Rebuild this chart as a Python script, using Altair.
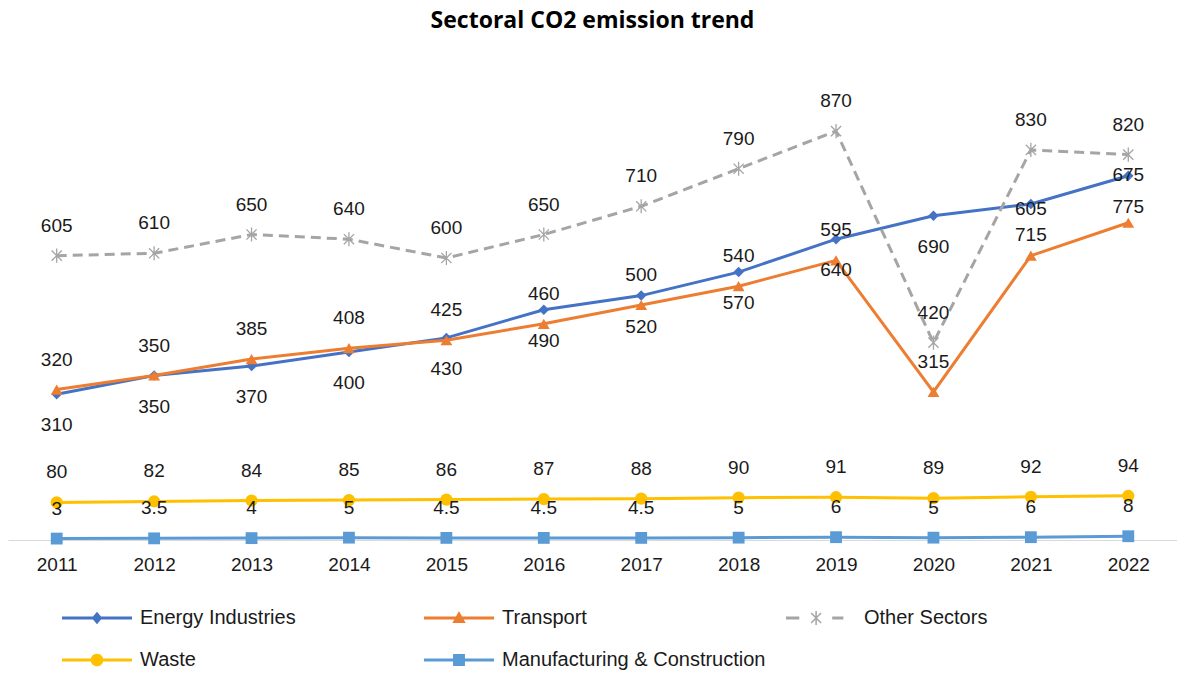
import math
import altair as alt
import pandas as pd

# ---------------- data ----------------
years = [2011, 2012, 2013, 2014, 2015, 2016, 2017, 2018, 2019, 2020, 2021, 2022]
energy = [310, 350, 370, 400, 430, 490, 520, 570, 640, 690, 715, 775]
transport = [320, 350, 385, 408, 425, 460, 500, 540, 595, 315, 605, 675]
other = [605, 610, 650, 640, 600, 650, 710, 790, 870, 420, 830, 820]
waste = [80, 82, 84, 85, 86, 87, 88, 90, 91, 89, 92, 94]
manufacturing = [3, 3.5, 4, 5, 4.5, 4.5, 4.5, 5, 6, 5, 6, 8]

series_names = ["Energy Industries", "Transport", "Other Sectors", "Waste",
                "Manufacturing & Construction"]
series_values = [energy, transport, other, waste, manufacturing]
colors = ["#4472C4", "#ED7D31", "#A5A5A5", "#FFC000", "#5B9BD5"]

rows = []
for name, vals in zip(series_names, series_values):
    for y, v in zip(years, vals):
        rows.append({"year": str(y), "series": name, "value": v, "label": f"{v:g}"})
df = pd.DataFrame(rows)

FONT = "Liberation Sans"
TXT = "#1a1a1a"

# ---------------- style: symbol paths, label offsets ----------------
def rect(x0, x1, y0, y1):
    return f"M{x0:.3f},{y0:.3f}H{x1:.3f}V{y1:.3f}H{x0:.3f}Z"

def bar(cx, cy, L, w, deg):
    t = math.radians(deg)
    dx, dy = math.cos(t), math.sin(t)
    nx, ny = -dy, dx
    pts = [(cx - L*dx - w*nx, cy - L*dy - w*ny), (cx + L*dx - w*nx, cy + L*dy - w*ny),
           (cx + L*dx + w*nx, cy + L*dy + w*ny), (cx - L*dx + w*nx, cy - L*dy + w*ny)]
    return "M" + "L".join(f"{a:.3f},{b:.3f}" for a, b in pts) + "Z"

LW = 0.045
line_full = rect(-1, 1, -LW, LW)
legend_paths = [
    line_full + "M0,-0.18L0.15,0L0,0.18L-0.15,0Z",
    line_full + "M0,-0.2L0.19,0.14L-0.19,0.14Z",
    rect(-1, -0.62, -LW, LW) + rect(0.32, 0.64, -LW, LW)
    + bar(-0.14, 0, 0.2, 0.022, 90) + bar(-0.14, 0, 0.2, 0.022, 45) + bar(-0.14, 0, 0.2, 0.022, 135),
    line_full + "M-0.18,0A0.18,0.18 0 1,1 0.18,0A0.18,0.18 0 1,1 -0.18,0Z",
    line_full + "M-0.17,-0.17H0.17V0.17H-0.17Z",
]

asterisk = "M0,-1L0,1M-0.72,-0.72L0.72,0.72M-0.72,0.72L0.72,-0.72"
marker_shapes = ["diamond", "triangle-up", asterisk, "circle", "square"]
marker_sizes = [110, 140, 200, 150, 140]
label_dy = [31, -30, -30, -30, -30]
# labels that were dragged higher in the original
label_dy_override = {("Transport", "2021"): -47, ("Transport", "2022"): -48}

X = alt.X("year:O", scale=alt.Scale(type="point", padding=0.5),
          axis=alt.Axis(title=None, labelAngle=0, ticks=False, domainColor="#D9D9D9",
                        domainWidth=1.2, labelFontSize=19, labelFont=FONT, labelColor=TXT,
                        labelPadding=15, grid=False))
Y = alt.Y("value:Q", scale=alt.Scale(domain=[0, 1000], nice=False, zero=True), axis=None)

layers = []
for i, name in enumerate(series_names):
    base = alt.Chart(df).transform_filter(alt.datum.series == name)
    line_kw = dict(color=colors[i], strokeWidth=3)
    if name == "Other Sectors":
        line_kw["strokeDash"] = [10, 6]
    layers.append(base.mark_line(**line_kw).encode(x=X, y=Y))
    if name == "Other Sectors":
        layers.append(base.mark_point(shape=asterisk, filled=False, stroke=colors[i],
                                      strokeWidth=1.3, size=marker_sizes[i], opacity=1)
                      .encode(x=X, y=Y))
    else:
        layers.append(base.mark_point(shape=marker_shapes[i], filled=True, color=colors[i],
                                      size=marker_sizes[i], opacity=1).encode(x=X, y=Y))

for i, name in enumerate(series_names):
    moved = [yr for (s, yr) in label_dy_override if s == name]
    base = alt.Chart(df).transform_filter(alt.datum.series == name)
    rest = base.transform_filter(~alt.FieldOneOfPredicate(field="year", oneOf=moved)) if moved else base
    layers.append(rest.mark_text(dy=label_dy[i], fontSize=19, font=FONT, color=TXT,
                                 baseline="middle").encode(x=X, y=Y, text="label:N"))
    for yr in moved:
        layers.append(base.transform_filter(alt.datum.year == yr)
                      .mark_text(dy=label_dy_override[(name, yr)], fontSize=19, font=FONT,
                                 color=TXT, baseline="middle")
                      .encode(x=X, y=Y, text="label:N"))

leg = alt.Legend(orient="none", legendX=54, legendY=538, columns=3, direction="horizontal",
                 title=None, symbolSize=4900, clipHeight=20, rowPadding=22, columnPadding=20,
                 labelOffset=8, labelFontSize=20, labelFont=FONT, labelColor=TXT,
                 gridAlign="all", padding=0, labelLimit=400, symbolStrokeWidth=0,
                 symbolOpacity=1)
legend_layer = (alt.Chart(df).transform_filter("false")
                .mark_point(filled=True, opacity=1)
                .encode(x=X, y=Y,
                        color=alt.Color("series:N", sort=None,
                                        scale=alt.Scale(domain=series_names, range=colors),
                                        legend=leg),
                        shape=alt.Shape("series:N", sort=None,
                                        scale=alt.Scale(domain=series_names, range=legend_paths),
                                        legend=leg)))
layers.append(legend_layer)

chart = (alt.layer(*layers)
         .properties(width=1169, height=470,
                     title=alt.Title("Sectoral CO2 emission trend", fontSize=23, font="Open Sans",
                                     fontWeight="bold", color="#000000", anchor="middle",
                                     offset=37),
                     autosize=alt.AutoSizeParams(type="none"),
                     background="white",
                     padding={"left": 8, "top": 70, "right": 0, "bottom": 133})
         .configure_view(stroke=None))

chart.save("out.html", embed_options={"renderer": "svg", "actions": False})
